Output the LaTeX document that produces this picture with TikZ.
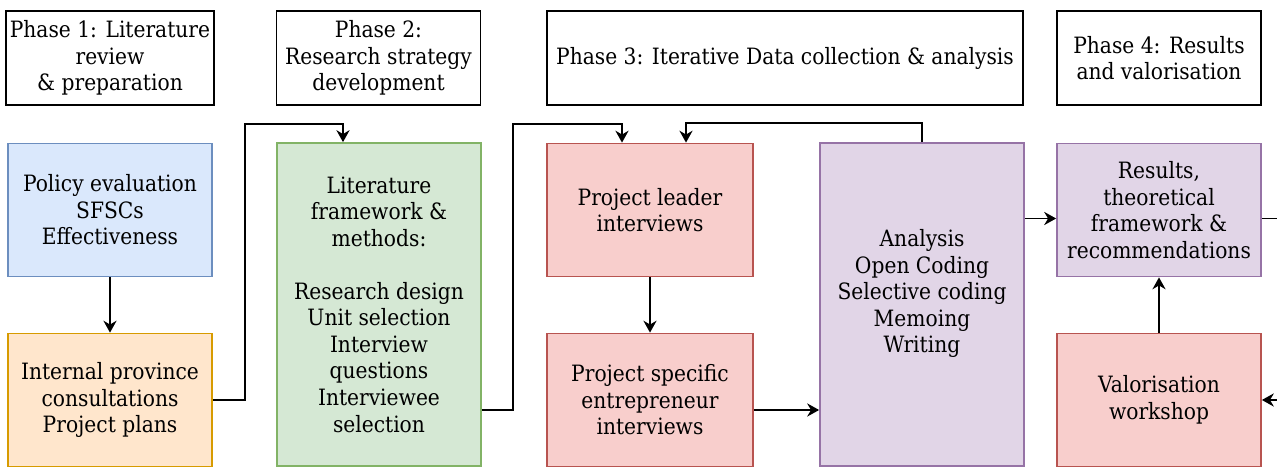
\documentclass[tikz,border=0pt]{standalone}
\usepackage{fontspec}
\setmainfont{DejaVu Serif Condensed}
\usepackage{tikz}
\usetikzlibrary{positioning, arrows.meta}
\usepackage{xcolor}
\definecolor{PrepBlue}{HTML}{DAE8FC}
\definecolor{PrepBlueLine}{HTML}{6C8EBF}
\definecolor{PrepOrange}{HTML}{FFE6CC}
\definecolor{PrepOrangeLine}{HTML}{D79B00}
\definecolor{StratGreen}{HTML}{D5E8D4}
\definecolor{StratGreenLine}{HTML}{82B366}
\definecolor{CollRed}{HTML}{F8CECC}
\definecolor{CollRedLine}{HTML}{B85450}
\definecolor{AnalPurple}{HTML}{E1D5E7}
\definecolor{AnalPurpleLine}{HTML}{9673A6}

\begin{document}
\begin{tikzpicture}[
        box/.style={rectangle, line width=1pt, align=center, inner sep=2pt,
                    font=\fontsize{12.8}{15.1}\selectfont, text=black},
        header/.style={box, draw=black, minimum width=4.08cm, minimum height=1.88cm},
        small/.style={box, minimum width=4.08cm, minimum height=2.66cm},
        tall/.style={box, minimum width=4.08cm, minimum height=6.46cm},
        prep/.style={fill=PrepBlue, draw=PrepBlueLine},
        consult/.style={fill=PrepOrange, draw=PrepOrangeLine},
        strat/.style={fill=StratGreen, draw=StratGreenLine},
        coll/.style={fill=CollRed, draw=CollRedLine},
        anal/.style={fill=AnalPurple, draw=AnalPurpleLine},
        conn/.style={-{Stealth[length=6.8pt, width=7.5pt]}, line width=1pt, black}
    ]
    \clip (0,0) rectangle (25.54,-9.36);

    % Phase headers
    \node[header] (ph1) at (2.2, -1.16) {Phase 1: Literature\\review\\\& preparation};
    \node[header] (ph2) at (7.57, -1.16) {Phase 2:\\Research strategy\\development};
    \node[header, minimum width=9.52cm] (ph3) at (15.7, -1.16) {Phase 3: Iterative Data collection \& analysis};
    \node[header] (ph4) at (23.18, -1.16) {Phase 4: Results\\and valorisation};

    % Phase 1
    \node[small, prep] (policy) at (2.2, -4.2) {Policy evaluation\\SFSCs\\Effectiveness};
    \node[small, consult] (internal) at (2.2, -8.0) {Internal province\\consultations\\Project plans};

    % Phase 2
    \node[tall, strat] (lit) at (7.58, -6.09) {Literature\\framework \&\\methods:\\[15.1pt]Research design\\Unit selection\\Interview\\questions\\Interviewee\\selection};

    % Phase 3
    \node[small, coll, minimum width=4.12cm] (leader) at (13.0, -4.2) {Project leader\\interviews};
    \node[small, coll, minimum width=4.12cm] (entre) at (13.0, -8.0) {Project specific\\entrepreneur\\interviews};
    \node[tall, anal] (analysis) at (18.44, -6.09) {Analysis\\Open Coding\\Selective coding\\Memoing\\Writing\\{}};

    % Phase 4
    \node[small, anal] (results) at (23.18, -4.2) {Results,\\theoretical\\framework \&\\recommendations};
    \node[small, coll] (valor) at (23.18, -8.0) {Valorisation\\workshop};

    % Connections
    \draw[conn] (policy) -- (internal);
    \draw[conn] (internal.east) -| (4.9, -2.48) -| ([xshift=-0.72cm]lit.north);
    \draw[conn] ([yshift=-2.11cm]lit.east) -| (10.26, -2.48) -| ([xshift=-0.56cm]leader.north);
    \draw[conn] (analysis.north) -- ++(0, 0.38) -| ([xshift=0.72cm]leader.north);
    \draw[conn] (leader) -- (entre);
    \coordinate (entreout) at ([yshift=-0.2cm]entre.east);
    \draw[conn] (entreout) -- (entreout -| analysis.west);
    \coordinate (resin) at ([yshift=-0.17cm]results.west);
    \draw[conn] (analysis.east |- resin) -- (resin);
    \draw[conn] (valor) -- (results);
    \coordinate (resout) at (26, -4.37);
    \draw[line width=1pt] (results.east |- resout) -- (resout);
    \coordinate (valin) at (26, -8.0);
    \draw[conn] (valin) -- (valor.east);
\end{tikzpicture}
\end{document}
